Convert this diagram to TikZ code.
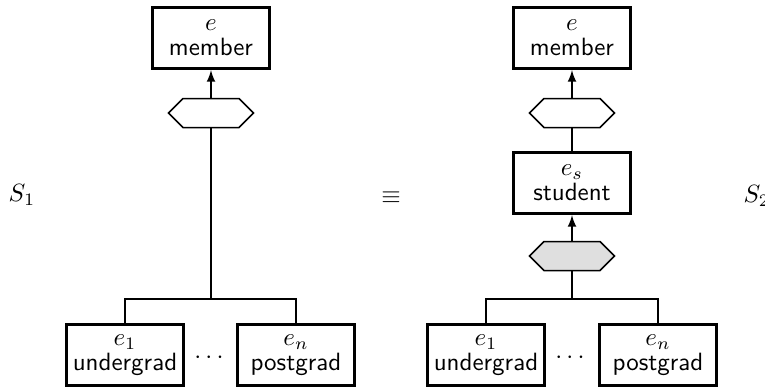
\documentclass[tikz,border=0pt]{standalone}
\usepackage{amsmath, amssymb}
\usepackage{tikz}
\usetikzlibrary{positioning, shapes.symbols, arrows}
\tikzstyle{link} = [semithick,->,>=latex]

\begin{document}
\begin{tikzpicture}[x=0.4pt, y=-0.4pt,
    entity/.style={draw, line width=1.2pt, font=\sffamily, align=center, inner sep=1pt, minimum width=47pt, minimum height=24.5pt},
    hexa/.style={draw, semithick, signal, signal to=west and east, minimum width=34pt, minimum height=11.6pt, inner sep=0pt}]
  \useasboundingbox (0,0) rectangle (765,387);

  % Left schema
  \node[entity] (m1) at (211,38) {$e$\\[-2pt]member};
  \node[hexa] (h1) at (211,113) {};
  \coordinate (j1) at (211,299);
  \node[entity] (u1) at (125,355) {$e_1$\\[-2pt]undergrad};
  \node[entity] (p1) at (296,355) {$e_n$\\[-2pt]postgrad};
  \node (d1) at (211,358) {$\cdots$};

  \draw[link] (h1.north) -- (m1.south);
  \draw[semithick] (h1.south) -- (j1);
  \draw[semithick] (u1.north) |- (j1) -| (p1.north);

  % Labels
  \node (s1) at (22,195) {$S_1$};
  \node (eq) at (391,198) {$\equiv$};
  \node[anchor=west, inner sep=0pt] (s2) at (743,196) {$S_2$};

  % Right schema
  \node[entity] (m2) at (572,38) {$e$\\[-2pt]member};
  \node[hexa] (h2) at (572,113) {};
  \node[entity] (st) at (572,183) {$e_s$\\[-2pt]student};
  \node[hexa, fill=gray!25] (g2) at (572,256) {};
  \coordinate (j2) at (572,299);
  \node[entity] (u2) at (486,355) {$e_1$\\[-2pt]undergrad};
  \node[entity] (p2) at (658,355) {$e_n$\\[-2pt]postgrad};
  \node (d2) at (572,358) {$\cdots$};

  \draw[link] (h2.north) -- (m2.south);
  \draw[semithick] (h2.south) -- (st.north);
  \draw[link] (g2.north) -- (st.south);
  \draw[semithick] (g2.south) -- (j2);
  \draw[semithick] (u2.north) |- (j2) -| (p2.north);
\end{tikzpicture}
\end{document}
